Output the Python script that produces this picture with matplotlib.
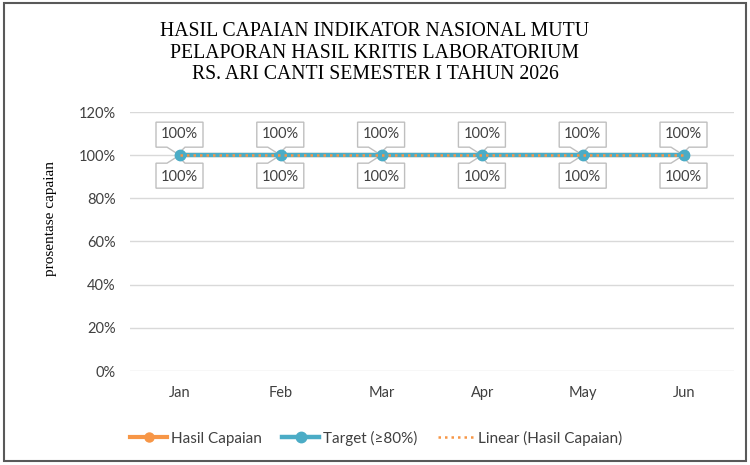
import numpy as np
import matplotlib
matplotlib.use("Agg")
import matplotlib.pyplot as plt
from matplotlib.patches import Rectangle, Polygon
from matplotlib.ticker import FuncFormatter
from matplotlib.transforms import Affine2D, ScaledTranslation

months = ["Jan", "Feb", "Mar", "Apr", "May", "Jun"]
hasil = [1.00, 1.00, 1.00, 1.00, 1.00, 1.00]
target = [1.00, 1.00, 1.00, 1.00, 1.00, 1.00]
yticks = [0, 0.2, 0.4, 0.6, 0.8, 1.0, 1.2]
title = "HASIL CAPAIAN INDIKATOR NASIONAL MUTU\nPELAPORAN HASIL KRITIS LABORATORIUM\nRS. ARI CANTI SEMESTER I TAHUN 2026"

ORANGE = "#F79646"
TEAL = "#4BACC6"
SANS = ["Lato", "DejaVu Sans"]
TXT = "#404040"

fig = plt.figure(figsize=(7.5, 4.65), dpi=100)
fig.patches.append(Rectangle((4/750, 1-461/465), 742/750, 458/465, transform=fig.transFigure,
                             fill=False, ec="#595959", lw=1.5))

ax = fig.add_axes([129.6/750, 1-371/465, (734.4-129.6)/750, (371-112)/465])
x = np.arange(len(months))

ax.plot(x, hasil, color=ORANGE, lw=3, marker="o", ms=6.5, label="Hasil Capaian", zorder=3)
ax.plot(x, target, color=TEAL, lw=3.2, marker="o", ms=7.5, label="Target (\u226580%)", zorder=4)
coef = np.polyfit(x, hasil, 1)
ax.plot(x, np.polyval(coef, x), color=ORANGE, lw=1.8, ls=(0, (1, 1.6)),
        label="Linear (Hasil Capaian)", zorder=5)

# callout shape in pixels relative to the data point (y up)
shape_up = [(-24, 8), (-24, 33), (23, 33), (23, 8), (5, 8), (-2, 1), (-13, 8)]
shape_dn = [(px, -py) for px, py in shape_up]
for xi, h, t in zip(x, hasil, target):
    base = Affine2D().scale(1/100) + fig.dpi_scale_trans + ScaledTranslation(xi, t, ax.transData)
    ax.add_patch(Polygon(shape_up, closed=True, fc="white", ec="#BFBFBF", lw=1,
                         transform=base, zorder=2.5, clip_on=False))
    ax.text(-0.5, 21, f"{t*100:.0f}%", transform=base, ha="center", va="center",
            fontsize=10.5, family=SANS, color=TXT, zorder=7)
    base2 = Affine2D().scale(1/100) + fig.dpi_scale_trans + ScaledTranslation(xi, h, ax.transData)
    ax.add_patch(Polygon(shape_dn, closed=True, fc="white", ec="#BFBFBF", lw=1,
                         transform=base2, zorder=2.5, clip_on=False))
    ax.text(-0.5, -21.5, f"{h*100:.0f}%", transform=base2, ha="center", va="center",
            fontsize=10.5, family=SANS, color=TXT, zorder=7)

ax.set_xlim(-0.5, 5.5)
ax.set_ylim(0, 1.2)
ax.set_yticks(yticks)
ax.yaxis.set_major_formatter(FuncFormatter(lambda v, p: f"{v*100:.0f}%"))
ax.set_xticks(x)
ax.set_xticklabels(months)
ax.grid(axis="y", color="#D9D9D9", lw=1)
ax.set_axisbelow(True)
for s in ax.spines.values():
    s.set_visible(False)
ax.tick_params(length=0, labelsize=10.5, colors=TXT)
ax.tick_params(axis="x", pad=11)
ax.tick_params(axis="y", pad=10)
for lab in ax.get_xticklabels() + ax.get_yticklabels():
    lab.set_family(SANS)
ax.set_ylabel("prosentase capaian", family="Liberation Serif", fontsize=11)
ax.yaxis.set_label_coords((57-129.6)/604.8, (371-219)/259)

fig.text(0.5, 1-53/465, title, ha="center", va="center", family="Liberation Serif",
         fontsize=14.2, linespacing=1.2)

leg = fig.legend(loc="center", bbox_to_anchor=(0.502, 1-438/465), ncol=3, frameon=False,
                 prop={"family": SANS, "size": 11}, handlelength=2.4, columnspacing=1.35,
                 handletextpad=0.25)
for t in leg.get_texts():
    t.set_color(TXT)

fig.savefig("out.png", dpi=100)
